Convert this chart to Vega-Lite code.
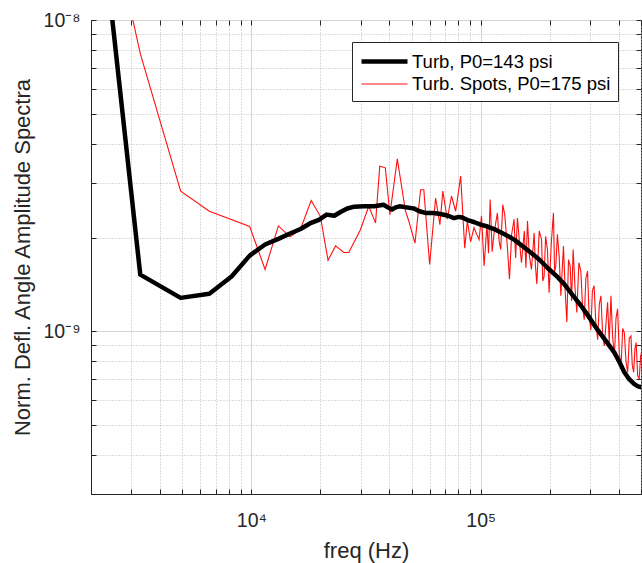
{
  "$schema": "https://vega.github.io/schema/vega-lite/v6.json",
  "width": 550,
  "height": 474,
  "autosize": {"type": "none"},
  "padding": {"left": 91, "top": 20, "right": 1, "bottom": 69},
  "data": {"values": [
    {"s": "Turb, P0=143 psi", "f": 1640, "v": 1.6e-7},
    {"s": "Turb, P0=143 psi", "f": 3280, "v": 1.52e-9},
    {"s": "Turb, P0=143 psi", "f": 4920, "v": 1.28e-9},
    {"s": "Turb, P0=143 psi", "f": 6560, "v": 1.32e-9},
    {"s": "Turb, P0=143 psi", "f": 8200, "v": 1.50e-9},
    {"s": "Turb, P0=143 psi", "f": 9840, "v": 1.75e-9},
    {"s": "Turb, P0=143 psi", "f": 11480, "v": 1.90e-9},
    {"s": "Turb, P0=143 psi", "f": 13120, "v": 1.98e-9},
    {"s": "Turb, P0=143 psi", "f": 14760, "v": 2.06e-9},
    {"s": "Turb, P0=143 psi", "f": 16400, "v": 2.13e-9},
    {"s": "Turb, P0=143 psi", "f": 18000, "v": 2.22e-9},
    {"s": "Turb, P0=143 psi", "f": 19700, "v": 2.28e-9},
    {"s": "Turb, P0=143 psi", "f": 21300, "v": 2.37e-9},
    {"s": "Turb, P0=143 psi", "f": 23000, "v": 2.35e-9},
    {"s": "Turb, P0=143 psi", "f": 24600, "v": 2.42e-9},
    {"s": "Turb, P0=143 psi", "f": 26200, "v": 2.48e-9},
    {"s": "Turb, P0=143 psi", "f": 27900, "v": 2.51e-9},
    {"s": "Turb, P0=143 psi", "f": 31200, "v": 2.52e-9},
    {"s": "Turb, P0=143 psi", "f": 34400, "v": 2.52e-9},
    {"s": "Turb, P0=143 psi", "f": 37700, "v": 2.55e-9},
    {"s": "Turb, P0=143 psi", "f": 39400, "v": 2.50e-9},
    {"s": "Turb, P0=143 psi", "f": 41000, "v": 2.46e-9},
    {"s": "Turb, P0=143 psi", "f": 42600, "v": 2.50e-9},
    {"s": "Turb, P0=143 psi", "f": 44300, "v": 2.52e-9},
    {"s": "Turb, P0=143 psi", "f": 47500, "v": 2.50e-9},
    {"s": "Turb, P0=143 psi", "f": 51200, "v": 2.48e-9},
    {"s": "Turb, P0=143 psi", "f": 54000, "v": 2.43e-9},
    {"s": "Turb, P0=143 psi", "f": 57400, "v": 2.40e-9},
    {"s": "Turb, P0=143 psi", "f": 62300, "v": 2.40e-9},
    {"s": "Turb, P0=143 psi", "f": 66800, "v": 2.38e-9},
    {"s": "Turb, P0=143 psi", "f": 72100, "v": 2.35e-9},
    {"s": "Turb, P0=143 psi", "f": 76500, "v": 2.31e-9},
    {"s": "Turb, P0=143 psi", "f": 80400, "v": 2.33e-9},
    {"s": "Turb, P0=143 psi", "f": 83200, "v": 2.32e-9},
    {"s": "Turb, P0=143 psi", "f": 88500, "v": 2.27e-9},
    {"s": "Turb, P0=143 psi", "f": 94000, "v": 2.24e-9},
    {"s": "Turb, P0=143 psi", "f": 100000, "v": 2.20e-9},
    {"s": "Turb, P0=143 psi", "f": 107000, "v": 2.17e-9},
    {"s": "Turb, P0=143 psi", "f": 114400, "v": 2.13e-9},
    {"s": "Turb, P0=143 psi", "f": 127000, "v": 2.05e-9},
    {"s": "Turb, P0=143 psi", "f": 140000, "v": 1.97e-9},
    {"s": "Turb, P0=143 psi", "f": 152000, "v": 1.88e-9},
    {"s": "Turb, P0=143 psi", "f": 165300, "v": 1.79e-9},
    {"s": "Turb, P0=143 psi", "f": 180000, "v": 1.70e-9},
    {"s": "Turb, P0=143 psi", "f": 195500, "v": 1.60e-9},
    {"s": "Turb, P0=143 psi", "f": 213000, "v": 1.51e-9},
    {"s": "Turb, P0=143 psi", "f": 231000, "v": 1.42e-9},
    {"s": "Turb, P0=143 psi", "f": 251000, "v": 1.31e-9},
    {"s": "Turb, P0=143 psi", "f": 273400, "v": 1.21e-9},
    {"s": "Turb, P0=143 psi", "f": 297000, "v": 1.11e-9},
    {"s": "Turb, P0=143 psi", "f": 323600, "v": 1.01e-9},
    {"s": "Turb, P0=143 psi", "f": 352000, "v": 9.3e-10},
    {"s": "Turb, P0=143 psi", "f": 382800, "v": 8.54e-10},
    {"s": "Turb, P0=143 psi", "f": 403000, "v": 7.95e-10},
    {"s": "Turb, P0=143 psi", "f": 423000, "v": 7.38e-10},
    {"s": "Turb, P0=143 psi", "f": 445000, "v": 7.0e-10},
    {"s": "Turb, P0=143 psi", "f": 467900, "v": 6.76e-10},
    {"s": "Turb, P0=143 psi", "f": 485000, "v": 6.65e-10},
    {"s": "Turb, P0=143 psi", "f": 505000, "v": 6.6e-10},
    {"s": "Turb. Spots, P0=175 psi", "f": 1640, "v": 7.9e-8},
    {"s": "Turb. Spots, P0=175 psi", "f": 3280, "v": 7.8e-9},
    {"s": "Turb. Spots, P0=175 psi", "f": 4920, "v": 2.82e-9},
    {"s": "Turb. Spots, P0=175 psi", "f": 6560, "v": 2.43e-9},
    {"s": "Turb. Spots, P0=175 psi", "f": 9840, "v": 2.17e-9},
    {"s": "Turb. Spots, P0=175 psi", "f": 11480, "v": 1.58e-9},
    {"s": "Turb. Spots, P0=175 psi", "f": 13120, "v": 2.18e-9},
    {"s": "Turb. Spots, P0=175 psi", "f": 14760, "v": 2.01e-9},
    {"s": "Turb. Spots, P0=175 psi", "f": 16350, "v": 2.12e-9},
    {"s": "Turb. Spots, P0=175 psi", "f": 18240, "v": 2.63e-9},
    {"s": "Turb. Spots, P0=175 psi", "f": 20000, "v": 2.34e-9},
    {"s": "Turb. Spots, P0=175 psi", "f": 21600, "v": 1.69e-9},
    {"s": "Turb. Spots, P0=175 psi", "f": 23300, "v": 1.88e-9},
    {"s": "Turb. Spots, P0=175 psi", "f": 25300, "v": 1.79e-9},
    {"s": "Turb. Spots, P0=175 psi", "f": 26600, "v": 1.79e-9},
    {"s": "Turb. Spots, P0=175 psi", "f": 29900, "v": 2.12e-9},
    {"s": "Turb. Spots, P0=175 psi", "f": 32500, "v": 2.52e-9},
    {"s": "Turb. Spots, P0=175 psi", "f": 34800, "v": 2.23e-9},
    {"s": "Turb. Spots, P0=175 psi", "f": 36300, "v": 3.39e-9},
    {"s": "Turb. Spots, P0=175 psi", "f": 38400, "v": 3.35e-9},
    {"s": "Turb. Spots, P0=175 psi", "f": 40200, "v": 2.37e-9},
    {"s": "Turb. Spots, P0=175 psi", "f": 43300, "v": 3.58e-9},
    {"s": "Turb. Spots, P0=175 psi", "f": 47000, "v": 2.43e-9},
    {"s": "Turb. Spots, P0=175 psi", "f": 48600, "v": 2.26e-9},
    {"s": "Turb. Spots, P0=175 psi", "f": 51700, "v": 1.92e-9},
    {"s": "Turb. Spots, P0=175 psi", "f": 54700, "v": 2.85e-9},
    {"s": "Turb. Spots, P0=175 psi", "f": 56500, "v": 2.85e-9},
    {"s": "Turb. Spots, P0=175 psi", "f": 59900, "v": 1.64e-9},
    {"s": "Turb. Spots, P0=175 psi", "f": 63600, "v": 2.68e-9},
    {"s": "Turb. Spots, P0=175 psi", "f": 66400, "v": 2.20e-9},
    {"s": "Turb. Spots, P0=175 psi", "f": 68400, "v": 2.82e-9},
    {"s": "Turb. Spots, P0=175 psi", "f": 71500, "v": 2.29e-9},
    {"s": "Turb. Spots, P0=175 psi", "f": 74600, "v": 2.72e-9},
    {"s": "Turb. Spots, P0=175 psi", "f": 77800, "v": 2.43e-9},
    {"s": "Turb. Spots, P0=175 psi", "f": 81800, "v": 3.15e-9},
    {"s": "Turb. Spots, P0=175 psi", "f": 85200, "v": 1.85e-9},
    {"s": "Turb. Spots, P0=175 psi", "f": 87500, "v": 2.26e-9},
    {"s": "Turb. Spots, P0=175 psi", "f": 90400, "v": 1.94e-9},
    {"s": "Turb. Spots, P0=175 psi", "f": 93500, "v": 2.15e-9},
    {"s": "Turb. Spots, P0=175 psi", "f": 98400, "v": 1.97e-9},
    {"s": "Turb. Spots, P0=175 psi", "f": 100800, "v": 2.35e-9},
    {"s": "Turb. Spots, P0=175 psi", "f": 103500, "v": 1.62e-9},
    {"s": "Turb. Spots, P0=175 psi", "f": 106500, "v": 2.20e-9},
    {"s": "Turb. Spots, P0=175 psi", "f": 108200, "v": 1.78e-9},
    {"s": "Turb. Spots, P0=175 psi", "f": 110000, "v": 2.65e-9},
    {"s": "Turb. Spots, P0=175 psi", "f": 112200, "v": 1.80e-9},
    {"s": "Turb. Spots, P0=175 psi", "f": 114400, "v": 2.07e-9},
    {"s": "Turb. Spots, P0=175 psi", "f": 118300, "v": 2.40e-9},
    {"s": "Turb. Spots, P0=175 psi", "f": 120300, "v": 1.95e-9},
    {"s": "Turb. Spots, P0=175 psi", "f": 122300, "v": 1.83e-9},
    {"s": "Turb. Spots, P0=175 psi", "f": 124800, "v": 2.55e-9},
    {"s": "Turb. Spots, P0=175 psi", "f": 127300, "v": 2.37e-9},
    {"s": "Turb. Spots, P0=175 psi", "f": 130500, "v": 1.90e-9},
    {"s": "Turb. Spots, P0=175 psi", "f": 133500, "v": 1.47e-9},
    {"s": "Turb. Spots, P0=175 psi", "f": 136500, "v": 2.05e-9},
    {"s": "Turb. Spots, P0=175 psi", "f": 139800, "v": 2.29e-9},
    {"s": "Turb. Spots, P0=175 psi", "f": 142000, "v": 1.72e-9},
    {"s": "Turb. Spots, P0=175 psi", "f": 144600, "v": 2.31e-9},
    {"s": "Turb. Spots, P0=175 psi", "f": 147500, "v": 1.95e-9},
    {"s": "Turb. Spots, P0=175 psi", "f": 150600, "v": 1.66e-9},
    {"s": "Turb. Spots, P0=175 psi", "f": 155000, "v": 2.10e-9},
    {"s": "Turb. Spots, P0=175 psi", "f": 157500, "v": 1.60e-9},
    {"s": "Turb. Spots, P0=175 psi", "f": 160000, "v": 2.26e-9},
    {"s": "Turb. Spots, P0=175 psi", "f": 163000, "v": 1.75e-9},
    {"s": "Turb. Spots, P0=175 psi", "f": 166500, "v": 1.58e-9},
    {"s": "Turb. Spots, P0=175 psi", "f": 171000, "v": 2.07e-9},
    {"s": "Turb. Spots, P0=175 psi", "f": 173300, "v": 1.62e-9},
    {"s": "Turb. Spots, P0=175 psi", "f": 175700, "v": 1.42e-9},
    {"s": "Turb. Spots, P0=175 psi", "f": 180000, "v": 2.10e-9},
    {"s": "Turb. Spots, P0=175 psi", "f": 184200, "v": 1.97e-9},
    {"s": "Turb. Spots, P0=175 psi", "f": 186500, "v": 1.45e-9},
    {"s": "Turb. Spots, P0=175 psi", "f": 189000, "v": 1.50e-9},
    {"s": "Turb. Spots, P0=175 psi", "f": 192000, "v": 2.02e-9},
    {"s": "Turb. Spots, P0=175 psi", "f": 195500, "v": 1.83e-9},
    {"s": "Turb. Spots, P0=175 psi", "f": 198700, "v": 1.33e-9},
    {"s": "Turb. Spots, P0=175 psi", "f": 203000, "v": 1.90e-9},
    {"s": "Turb. Spots, P0=175 psi", "f": 207600, "v": 2.40e-9},
    {"s": "Turb. Spots, P0=175 psi", "f": 210000, "v": 1.55e-9},
    {"s": "Turb. Spots, P0=175 psi", "f": 212600, "v": 1.62e-9},
    {"s": "Turb. Spots, P0=175 psi", "f": 216000, "v": 2.05e-9},
    {"s": "Turb. Spots, P0=175 psi", "f": 219900, "v": 1.74e-9},
    {"s": "Turb. Spots, P0=175 psi", "f": 223600, "v": 1.30e-9},
    {"s": "Turb. Spots, P0=175 psi", "f": 229600, "v": 1.88e-9},
    {"s": "Turb. Spots, P0=175 psi", "f": 233500, "v": 1.35e-9},
    {"s": "Turb. Spots, P0=175 psi", "f": 237500, "v": 1.07e-9},
    {"s": "Turb. Spots, P0=175 psi", "f": 241500, "v": 1.70e-9},
    {"s": "Turb. Spots, P0=175 psi", "f": 245600, "v": 1.62e-9},
    {"s": "Turb. Spots, P0=175 psi", "f": 249000, "v": 1.25e-9},
    {"s": "Turb. Spots, P0=175 psi", "f": 253100, "v": 1.83e-9},
    {"s": "Turb. Spots, P0=175 psi", "f": 257500, "v": 1.40e-9},
    {"s": "Turb. Spots, P0=175 psi", "f": 262500, "v": 1.15e-9},
    {"s": "Turb. Spots, P0=175 psi", "f": 268000, "v": 1.66e-9},
    {"s": "Turb. Spots, P0=175 psi", "f": 273400, "v": 1.56e-9},
    {"s": "Turb. Spots, P0=175 psi", "f": 278000, "v": 1.20e-9},
    {"s": "Turb. Spots, P0=175 psi", "f": 282800, "v": 1.09e-9},
    {"s": "Turb. Spots, P0=175 psi", "f": 287500, "v": 1.48e-9},
    {"s": "Turb. Spots, P0=175 psi", "f": 292300, "v": 1.56e-9},
    {"s": "Turb. Spots, P0=175 psi", "f": 297000, "v": 1.12e-9},
    {"s": "Turb. Spots, P0=175 psi", "f": 302300, "v": 1.01e-9},
    {"s": "Turb. Spots, P0=175 psi", "f": 307000, "v": 1.35e-9},
    {"s": "Turb. Spots, P0=175 psi", "f": 312300, "v": 1.40e-9},
    {"s": "Turb. Spots, P0=175 psi", "f": 318000, "v": 1.05e-9},
    {"s": "Turb. Spots, P0=175 psi", "f": 323600, "v": 9.4e-10},
    {"s": "Turb. Spots, P0=175 psi", "f": 329000, "v": 1.22e-9},
    {"s": "Turb. Spots, P0=175 psi", "f": 334400, "v": 1.30e-9},
    {"s": "Turb. Spots, P0=175 psi", "f": 340000, "v": 9.8e-10},
    {"s": "Turb. Spots, P0=175 psi", "f": 345800, "v": 8.97e-10},
    {"s": "Turb. Spots, P0=175 psi", "f": 351500, "v": 1.05e-9},
    {"s": "Turb. Spots, P0=175 psi", "f": 357500, "v": 1.24e-9},
    {"s": "Turb. Spots, P0=175 psi", "f": 363500, "v": 9.2e-10},
    {"s": "Turb. Spots, P0=175 psi", "f": 369800, "v": 1.30e-9},
    {"s": "Turb. Spots, P0=175 psi", "f": 376000, "v": 9.6e-10},
    {"s": "Turb. Spots, P0=175 psi", "f": 382800, "v": 8.33e-10},
    {"s": "Turb. Spots, P0=175 psi", "f": 389000, "v": 1.10e-9},
    {"s": "Turb. Spots, P0=175 psi", "f": 395300, "v": 1.18e-9},
    {"s": "Turb. Spots, P0=175 psi", "f": 402000, "v": 8.5e-10},
    {"s": "Turb. Spots, P0=175 psi", "f": 409300, "v": 7.74e-10},
    {"s": "Turb. Spots, P0=175 psi", "f": 416000, "v": 1.02e-9},
    {"s": "Turb. Spots, P0=175 psi", "f": 423000, "v": 9.9e-10},
    {"s": "Turb. Spots, P0=175 psi", "f": 430000, "v": 8.0e-10},
    {"s": "Turb. Spots, P0=175 psi", "f": 437500, "v": 7.38e-10},
    {"s": "Turb. Spots, P0=175 psi", "f": 444500, "v": 9.5e-10},
    {"s": "Turb. Spots, P0=175 psi", "f": 451900, "v": 9.66e-10},
    {"s": "Turb. Spots, P0=175 psi", "f": 458000, "v": 7.8e-10},
    {"s": "Turb. Spots, P0=175 psi", "f": 464500, "v": 7.38e-10},
    {"s": "Turb. Spots, P0=175 psi", "f": 470500, "v": 8.8e-10},
    {"s": "Turb. Spots, P0=175 psi", "f": 476400, "v": 9.2e-10},
    {"s": "Turb. Spots, P0=175 psi", "f": 483500, "v": 7.2e-10},
    {"s": "Turb. Spots, P0=175 psi", "f": 491000, "v": 7.02e-10},
    {"s": "Turb. Spots, P0=175 psi", "f": 498000, "v": 8.3e-10},
    {"s": "Turb. Spots, P0=175 psi", "f": 505800, "v": 8.75e-10}
  ]},
  "layer": [
    {
      "transform": [{"filter": "datum.s == 'Turb. Spots, P0=175 psi'"}],
      "mark": {"type": "line", "clip": true},
      "encoding": {
        "x": {"field": "f", "type": "quantitative", "scale": {"type": "log", "domain": [2000, 500000], "nice": false},
          "axis": {"orient": "top", "title": null, "labels": false, "grid": false, "domain": false, "tickSize": -5,
            "values": [2000,3000,4000,5000,6000,7000,8000,9000,10000,20000,30000,40000,50000,60000,70000,80000,90000,100000,200000,300000,400000,500000]}},
        "y": {"field": "v", "type": "quantitative", "scale": {"type": "log", "domain": [3e-10, 1e-8], "nice": false},
          "axis": {"orient": "right", "title": null, "labels": false, "grid": false, "domain": false, "tickSize": -5,
            "values": [3e-10,4e-10,5e-10,6e-10,7e-10,8e-10,9e-10,1e-9,2e-9,3e-9,4e-9,5e-9,6e-9,7e-9,8e-9,9e-9,1e-8]}},
        "color": {"field": "s", "type": "nominal", "scale": {"domain": ["Turb, P0=143 psi", "Turb. Spots, P0=175 psi"], "range": ["#000000", "#ff1010"]}, "legend": {"title": null}},
        "strokeWidth": {"field": "s", "type": "nominal", "scale": {"domain": ["Turb, P0=143 psi", "Turb. Spots, P0=175 psi"], "range": [4.5, 1.1]}, "legend": {"title": null}}
      }
    },
    {
      "transform": [{"filter": "datum.s == 'Turb, P0=143 psi'"}],
      "mark": {"type": "line", "clip": true, "strokeJoin": "round"},
      "encoding": {
        "x": {"field": "f", "type": "quantitative",
          "axis": {"orient": "bottom", "title": "freq (Hz)", "titleFontSize": 22, "titlePadding": 11,
            "labelFontSize": 19.5, "labelPadding": 22, "tickSize": -5, "labelOverlap": false, "labelFlush": false,
            "labelExpr": "datum.value == 10000 ? '10⁴' : datum.value == 100000 ? '10⁵' : ''",
            "values": [2000,3000,4000,5000,6000,7000,8000,9000,10000,20000,30000,40000,50000,60000,70000,80000,90000,100000,200000,300000,400000,500000],
            "grid": true,
            "gridColor": {"condition": {"test": "datum.value == 10000 || datum.value == 100000", "value": "#d4d4d4"}, "value": "#b8b8b8"},
            "gridDash": {"condition": {"test": "datum.value == 10000 || datum.value == 100000", "value": []}, "value": [1, 2]}}},
        "y": {"field": "v", "type": "quantitative",
          "axis": {"orient": "left", "title": "Norm. Defl. Angle Amplitude Spectra", "titleFontSize": 22, "titlePadding": 8,
            "labelFontSize": 19.5, "labelPadding": 16, "tickSize": -5, "labelOverlap": false, "labelFlush": false,
            "labelExpr": "datum.value == 1e-8 ? '10⁻⁸' : datum.value == 1e-9 ? '10⁻⁹' : ''",
            "values": [3e-10,4e-10,5e-10,6e-10,7e-10,8e-10,9e-10,1e-9,2e-9,3e-9,4e-9,5e-9,6e-9,7e-9,8e-9,9e-9,1e-8],
            "grid": true,
            "gridColor": {"condition": {"test": "datum.value == 1e-9 || datum.value == 1e-8", "value": "#d4d4d4"}, "value": "#b8b8b8"},
            "gridDash": {"condition": {"test": "datum.value == 1e-9 || datum.value == 1e-8", "value": []}, "value": [1, 2]}}},
        "color": {"field": "s", "type": "nominal", "legend": {"title": null}},
        "strokeWidth": {"field": "s", "type": "nominal", "legend": {"title": null}}
      }
    }
  ],
  "resolve": {"axis": {"x": "independent", "y": "independent"}},
  "config": {
    "font": "Liberation Sans",
    "view": {"stroke": "#262626", "strokeWidth": 1},
    "axis": {"domainColor": "#262626", "tickColor": "#262626", "labelColor": "#262626", "titleColor": "#262626", "titleFontWeight": "normal"},
    "legend": {"orient": "none", "legendX": 261, "legendY": 22, "symbolType": "M-2.3,0H2.3", "symbolSize": 400, "symbolOffset": 13,
      "labelFontSize": 18.5, "labelColor": "#000000", "labelLimit": 400, "strokeColor": "#262626", "fillColor": "#ffffff",
      "padding": 7, "rowPadding": 2, "labelOffset": 15}
  }
}
